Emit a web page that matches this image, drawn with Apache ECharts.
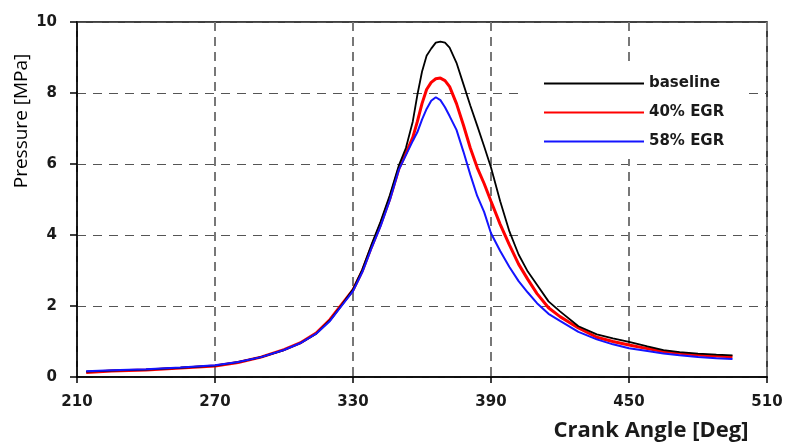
<!DOCTYPE html>
<html>
<head>
<meta charset="utf-8">
<script src="https://cdn.jsdelivr.net/npm/echarts@6/dist/echarts.min.js"></script>
<style>
  html, body { margin: 0; padding: 0; background: #fff; }
  #chart { width: 789px; height: 447px; }
</style>
</head>
<body>
<div id="chart"></div>
<script>
// crank angle [deg] and pressure [MPa]
const crankAngle = [214, 225, 240, 255, 270, 280, 290, 300, 307, 314, 320, 325, 330, 334, 338, 342, 346, 350, 353, 356, 358, 360, 362, 364, 366, 368, 370, 372, 375, 378, 381, 384, 387, 390, 394, 398, 402, 406, 410, 415, 420, 428, 436, 443, 450, 458, 465, 472, 480, 488, 495];
const baseline = [0.15, 0.18, 0.21, 0.26, 0.32, 0.42, 0.56, 0.76, 0.95, 1.22, 1.6, 2.02, 2.47, 3.02, 3.72, 4.38, 5.12, 5.97, 6.45, 7.2, 7.95, 8.6, 9.05, 9.25, 9.42, 9.45, 9.42, 9.28, 8.85, 8.25, 7.65, 7.08, 6.5, 5.9, 4.95, 4.1, 3.45, 2.97, 2.6, 2.13, 1.85, 1.43, 1.2, 1.09, 0.99, 0.86, 0.76, 0.7, 0.66, 0.63, 0.61];
const egr40 = [0.13, 0.17, 0.2, 0.25, 0.31, 0.41, 0.56, 0.77, 0.96, 1.24, 1.62, 2.04, 2.45, 2.98, 3.66, 4.3, 5.02, 5.88, 6.3, 6.75, 7.2, 7.7, 8.1, 8.3, 8.4, 8.42, 8.35, 8.18, 7.7, 7.1, 6.45, 5.9, 5.45, 4.95, 4.3, 3.72, 3.18, 2.75, 2.35, 1.95, 1.7, 1.38, 1.12, 1.0, 0.9, 0.8, 0.72, 0.67, 0.62, 0.59, 0.57];
const egr58 = [0.16, 0.19, 0.22, 0.27, 0.33, 0.42, 0.56, 0.76, 0.95, 1.22, 1.58, 2.0, 2.42, 2.95, 3.62, 4.25, 4.98, 5.85, 6.25, 6.65, 6.9, 7.25, 7.55, 7.78, 7.88, 7.8, 7.6, 7.35, 6.96, 6.35, 5.7, 5.1, 4.65, 4.05, 3.55, 3.1, 2.7, 2.38, 2.08, 1.78, 1.58, 1.27, 1.06, 0.92, 0.81, 0.73, 0.66, 0.61, 0.56, 0.53, 0.51];
const seriesNames = ['baseline', '40% EGR', '58% EGR'];
const xTicks = [210, 270, 330, 390, 450, 510];
const yTicks = [0, 2, 4, 6, 8, 10];

function pairs(values) {
    return crankAngle.map(function (a, i) { return [a, values[i]]; });
}

const chart = echarts.init(document.getElementById('chart'));

const tickFont = { color: '#1a1a1a', fontFamily: 'DejaVu Sans', fontWeight: 'bold', fontSize: 15 };

chart.setOption({
    backgroundColor: '#fff',
    animation: false,
    grid: { left: 77, right: 22, top: 22, bottom: 70, show: true, borderColor: '#000', borderWidth: 1.5 },
    xAxis: {
        type: 'value',
        min: xTicks[0],
        max: xTicks[xTicks.length - 1],
        interval: 60,
        axisLine: { onZero: false, lineStyle: { color: '#000', width: 1.5 } },
        axisTick: { length: 6, lineStyle: { color: '#000', width: 1.5 } },
        axisLabel: Object.assign({ margin: 18 }, tickFont),
        splitLine: { lineStyle: { color: '#777', width: 2, type: [9, 6] } }
    },
    yAxis: {
        type: 'value',
        min: yTicks[0],
        max: yTicks[yTicks.length - 1],
        interval: 2,
        axisLine: { show: true, lineStyle: { color: '#000', width: 1.5 } },
        axisTick: { show: true, length: 7, lineStyle: { color: '#000', width: 1.5 } },
        axisLabel: Object.assign({ margin: 20 }, tickFont),
        splitLine: { lineStyle: { color: '#555', width: 1.2, type: [9, 7] } }
    },
    legend: {
        data: seriesNames,
        orient: 'vertical',
        left: 523,
        top: 64,
        itemWidth: 100,
        itemHeight: 14,
        itemGap: 14,
        padding: [12, 18, 10, 20],
        backgroundColor: '#fff',
        itemStyle: { opacity: 0 },
        textStyle: { color: '#1a1a1a', fontFamily: 'DejaVu Sans', fontWeight: 'bold', fontSize: 15 }
    },
    graphic: [
        {
            type: 'text',
            x: 22, y: 121,
            rotation: Math.PI / 2,
            style: { text: 'Pressure [MPa]', x: 0, y: 0, align: 'center', verticalAlign: 'middle', fill: '#000', font: '19px "Open Sans"' }
        },
        {
            type: 'text',
            x: 651, y: 431,
            style: { text: 'Crank Angle [Deg]', x: 0, y: 0, align: 'center', verticalAlign: 'middle', fill: '#1a1a1a', font: 'bold 22px "Open Sans"' }
        }
    ],
    series: [
        { name: seriesNames[0], type: 'line', data: pairs(baseline), symbol: 'none', lineStyle: { color: '#000', width: 1.8 }, itemStyle: { color: '#000' }, z: 3 },
        { name: seriesNames[1], type: 'line', data: pairs(egr40), symbol: 'none', lineStyle: { color: '#ff0000', width: 3 }, itemStyle: { color: '#ff0000' }, z: 2 },
        { name: seriesNames[2], type: 'line', data: pairs(egr58), symbol: 'none', lineStyle: { color: '#1414ff', width: 2 }, itemStyle: { color: '#1414ff' }, z: 4 }
    ]
});
</script>
</body>
</html>
